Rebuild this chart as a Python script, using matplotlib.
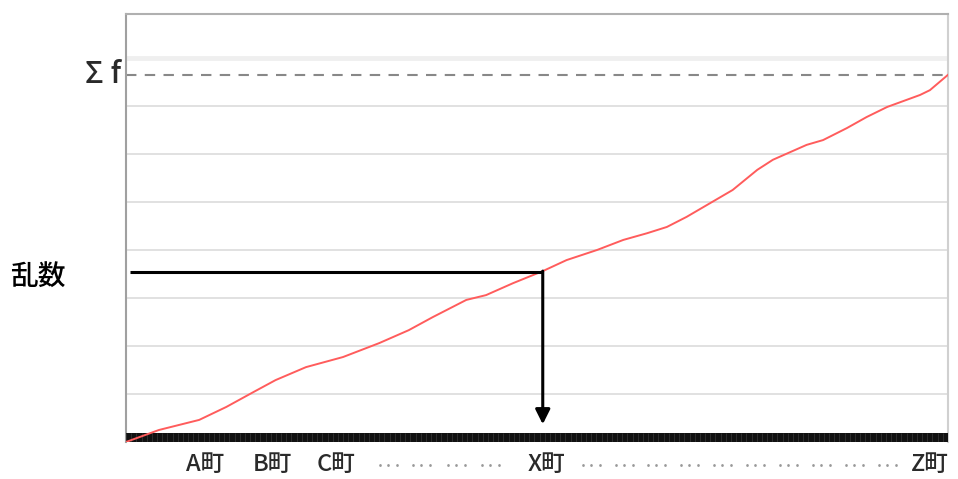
import matplotlib
matplotlib.use('Agg')
import matplotlib.pyplot as plt
import numpy as np

plt.rcParams['font.family'] = ['Noto Sans CJK JP', 'DejaVu Sans']

# cumulative frequency curve (x: position along towns 0..1, y: cumulative sum)
cum_x = [0.0, 0.040, 0.089, 0.122, 0.155, 0.182, 0.219, 0.264, 0.308, 0.344,
         0.373, 0.414, 0.438, 0.471, 0.507, 0.536, 0.573, 0.605, 0.634, 0.658,
         0.682, 0.707, 0.738, 0.768, 0.787, 0.828, 0.848, 0.877, 0.901, 0.926,
         0.966, 0.978, 1.0]
cum_y = [0.0, 0.25, 0.46, 0.73, 1.04, 1.29, 1.56, 1.77, 2.06, 2.33,
         2.60, 2.96, 3.06, 3.31, 3.56, 3.79, 4.00, 4.21, 4.35, 4.48,
         4.69, 4.94, 5.25, 5.67, 5.88, 6.19, 6.29, 6.54, 6.77, 6.98,
         7.23, 7.33, 7.65]
total_f = 7.65
rand_value = 3.54
rand_x = 0.507

town_pos = [0.096, 0.178, 0.255, 0.512, 0.978]
town_labels = ['A町', 'B町', 'C町', 'X町', 'Z町']
dots_pos = [0.320, 0.360, 0.403, 0.445,
            0.567, 0.607, 0.647, 0.687, 0.727, 0.767, 0.807, 0.847, 0.887, 0.927]
grid_levels = [1, 2, 3, 4, 5, 6, 7]

W, H = 958, 479
fig = plt.figure(figsize=(W / 100, H / 100), dpi=100)
ax = fig.add_axes([126 / W, (H - 442) / H, 822 / W, (442 - 14) / H])
ax.set_xlim(0, 1)
ax.set_ylim(0, (442 - 14) / 48)

for g in grid_levels:
    ax.axhline(g, color='#dcdcdc', lw=1.2, zorder=1)
ax.axhline(8, color='#efefef', lw=3.5, zorder=1)
ax.axhline(total_f, color='#888888', lw=1.5, linestyle=(0, (5, 4)), zorder=2)

# thick bar along the bottom
ax.axhspan(0, 9 / 48, color='#111111', zorder=3, lw=0)
ax.vlines(np.linspace(0, 1, 160), 0, 9 / 48, color='#333333', lw=0.6, zorder=3)

ax.plot(cum_x, cum_y, color='#ff5c5c', lw=1.4, zorder=5)

# random number -> town
ax.plot([0.005, rand_x], [rand_value, rand_value], color='black', lw=2.2, zorder=6,
        solid_capstyle='butt')
ax.annotate('', xy=(rand_x, 0.37), xytext=(rand_x, rand_value + 0.02),
            arrowprops=dict(arrowstyle='-|>', color='black', lw=2.2,
                            mutation_scale=22, shrinkA=0, shrinkB=0),
            zorder=6)

ax.spines['left'].set_color('#a0a0a0')
ax.spines['left'].set_linewidth(1.5)
ax.spines['top'].set_color('#b0b0b0')
ax.spines['top'].set_linewidth(1.5)
ax.spines['right'].set_color('#d0d0d0')
ax.spines['right'].set_linewidth(1.5)
ax.spines['bottom'].set_visible(False)

ax.set_yticks([])
ax.set_xticks(town_pos)
ax.set_xticklabels(town_labels, fontsize=17, color='#2a2a2a', fontweight='medium')
ax.tick_params(axis='x', length=0, pad=8)

for d in dots_pos:
    ax.text(d, -0.5, '···', ha='center', va='center', fontsize=11,
            color='#999999', fontweight='bold', clip_on=False)

ax.text(-0.006, total_f, 'Σ f', ha='right', va='center', fontsize=22,
        color='#2a2a2a', fontweight='medium', clip_on=False)
fig.text(10 / W, 1 - 277 / H, '乱数', ha='left', va='center', fontsize=20,
         color='black', fontweight='medium')

fig.savefig('out.png', dpi=100)
